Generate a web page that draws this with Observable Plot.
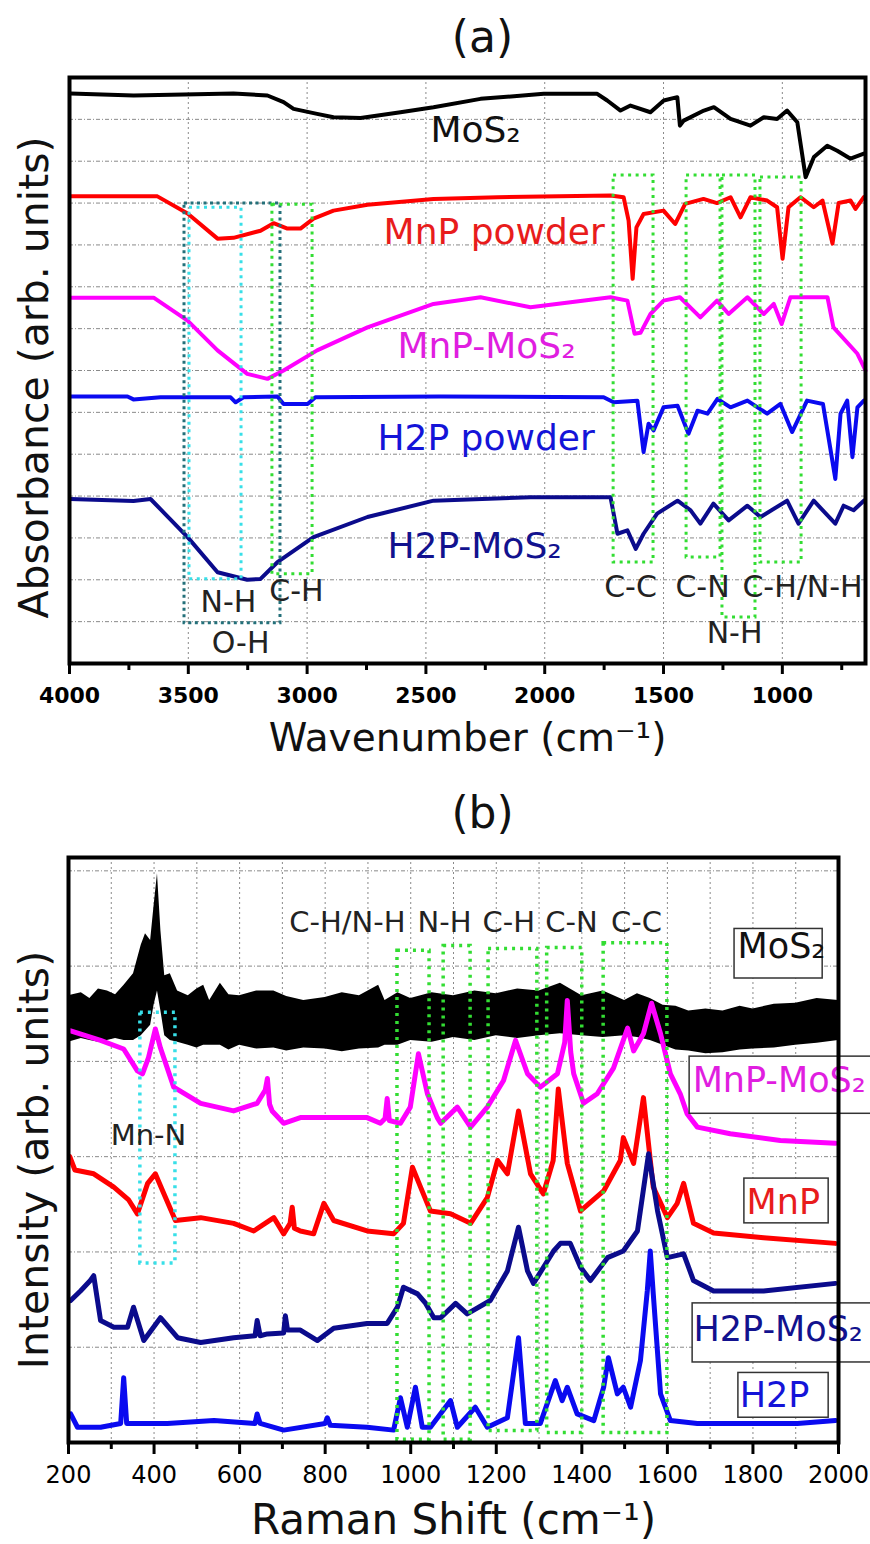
<!DOCTYPE html>
<html><head><meta charset="utf-8">
<script src="https://cdn.jsdelivr.net/npm/d3@7"></script>
<script src="https://cdn.jsdelivr.net/npm/@observablehq/plot@0.6"></script>
<style>
body{margin:0;background:#fff;}
#a svg,#b svg{display:block;}
</style>
</head><body>
<div id="a"></div><div id="b"></div>
<script>
// ---------- Panel (a): FTIR, [wavenumber cm-1, absorbance (arb. units, stacked)] ----------
const ftirMoS2 = [[3996,13.62],[3730,13.57],[3310,13.62],[3167,13.57],[3099,13.41],[3057,13.25],[2958,13.13],[2889,13.05],[2775,13.03],[2607,13.17],[2468,13.29],[2270,13.49],[2004,13.61],[1779,13.61],[1737,13.45],[1681,13.21],[1639,13.33],[1555,13.17],[1499,13.45],[1442,13.53],[1431,12.85],[1415,12.97],[1330,13.21],[1288,13.29],[1218,13.01],[1134,12.85],[1078,13.05],[1022,13.01],[980,13.21],[937,12.93],[902,11.62],[867,12.10],[811,12.37],[769,12.25],[713,12.06],[657,12.18]];
const ftirMnP = [[3996,11.16],[3630,11.16],[3503,10.75],[3377,10.15],[3310,10.17],[3196,10.34],[3141,10.52],[3083,10.39],[3028,10.39],[2973,10.63],[2889,10.82],[2746,10.96],[2468,11.10],[2199,11.14],[1723,11.18],[1668,11.14],[1647,10.58],[1630,9.19],[1614,10.42],[1584,10.74],[1500,10.82],[1451,10.50],[1409,10.98],[1332,11.10],[1275,11.00],[1218,11.14],[1176,10.66],[1134,11.14],[1064,11.06],[1022,10.90],[999,9.67],[974,10.90],[924,11.14],[868,10.90],[831,11.06],[789,10.03],[763,11.00],[713,11.06],[692,10.86],[657,11.14]];
const ftirMnPMoS2 = [[3996,8.74],[3646,8.74],[3503,8.19],[3377,7.48],[3252,6.92],[3167,6.80],[3099,7.00],[2958,7.48],[2746,8.03],[2468,8.59],[2270,8.75],[2060,8.51],[1723,8.75],[1652,8.67],[1622,7.88],[1597,7.90],[1555,8.35],[1500,8.67],[1431,8.75],[1345,8.27],[1275,8.67],[1226,8.35],[1147,8.75],[1078,8.35],[1036,8.59],[1003,8.11],[966,8.75],[810,8.75],[785,8.03],[684,7.40],[650,7.00]];
const ftirH2P = [[3996,6.38],[3756,6.38],[3731,6.31],[3617,6.36],[3322,6.36],[3301,6.24],[3268,6.36],[3125,6.38],[3099,6.20],[2998,6.20],[2965,6.36],[2439,6.38],[1752,6.36],[1710,6.24],[1610,6.28],[1584,5.05],[1563,5.73],[1542,5.57],[1500,6.12],[1441,6.16],[1395,5.49],[1357,6.04],[1315,5.97],[1273,6.32],[1218,6.12],[1147,6.28],[1064,5.97],[1008,6.20],[959,5.53],[896,6.28],[829,6.20],[799,5.17],[777,4.41],[755,5.97],[727,6.28],[705,4.93],[684,6.12],[657,6.28]];
const ftirH2PMoS2 = [[3996,3.93],[3731,3.88],[3659,3.93],[3503,3.02],[3377,2.18],[3252,2.00],[3196,2.02],[3125,2.42],[2973,3.02],[2746,3.50],[2468,3.89],[2060,3.97],[1723,3.97],[1694,3.10],[1652,3.18],[1617,2.74],[1584,3.10],[1527,3.58],[1441,3.89],[1386,3.66],[1345,3.34],[1290,3.82],[1226,3.42],[1147,3.77],[1092,3.50],[980,3.89],[932,3.34],[868,3.89],[777,3.34],[742,3.77],[700,3.66],[657,3.89]];
const ftirTicksMajor = [4000,3500,3000,2500,2000,1500,1000];
const ftirTicksMinor = [3750,3250,2750,2250,1750,1250,750];
const ftirGridY = [1,2,3,4,5,6,7,8,9,10,11,12,13];
const ftirBandOH = [{x1:3516,x2:3112,y1:0.96,y2:10.99}];
const ftirBandNH = [{x1:3495,x2:3276,y1:2.01,y2:10.89}];
const ftirBandsGreen = [
  {x1:3146,x2:2977,y1:2.13,y2:10.96},
  {x1:1710,x2:1542,y1:2.41,y2:11.66},
  {x1:1403,x2:1260,y1:2.53,y2:11.66},
  {x1:1252,x2:1113,y1:1.10,y2:11.66},
  {x1:1092,x2:919,y1:2.41,y2:11.61}
];
const ftirBandText = [
  {text:"N-H",x:3331,y:1.22},{text:"C-H",x:3045,y:1.50},{text:"O-H",x:3280,y:0.26},
  {text:"C-C",x:1639,y:1.58},{text:"C-N",x:1336,y:1.58},{text:"N-H",x:1201,y:0.48}
];
const ftirBandTextStart = [{text:"C-H/N-H",x:1168,y:1.58}];
const ftirNames = ["MoS₂","MnP powder","MnP-MoS₂","H2P powder","H2P-MoS₂"];
const ftirNameX = [2481,2678,2620,2704,2662];
const ftirNameY = [12.45,10.03,7.31,5.09,2.53];

// ---------- Panel (b): Raman, [Raman shift cm-1, intensity (arb. units, stacked)] ----------
const ramanMoS2Band = [[200,4.20,4.69],[230,4.24,4.72],[250,4.22,4.66],[270,4.20,4.76],[291,4.22,4.74],[310,4.24,4.70],[330,4.22,4.80],[352,4.22,4.92],[370,4.27,5.22],[380,4.32,5.34],[392,4.38,5.27],[400,4.59,5.63],[408,4.74,5.97],[416,4.53,5.37],[425,4.27,4.90],[438,4.22,4.92],[455,4.20,4.74],[480,4.17,4.69],[500,4.14,4.76],[516,4.17,4.80],[530,4.17,4.64],[555,4.17,4.82],[575,4.12,4.70],[600,4.17,4.69],[640,4.13,4.74],[680,4.14,4.74],[710,4.11,4.68],[750,4.14,4.64],[800,4.13,4.67],[840,4.10,4.72],[880,4.13,4.69],[925,4.14,4.80],[940,4.17,4.64],[970,4.17,4.72],[1000,4.22,4.66],[1050,4.20,4.72],[1100,4.25,4.69],[1150,4.22,4.74],[1200,4.27,4.71],[1250,4.24,4.76],[1300,4.27,4.74],[1350,4.29,4.82],[1400,4.27,4.69],[1450,4.25,4.74],[1500,4.27,4.64],[1530,4.25,4.71],[1560,4.22,4.66],[1590,4.17,4.59],[1620,4.12,4.58],[1650,4.11,4.53],[1690,4.08,4.55],[1730,4.09,4.53],[1770,4.12,4.58],[1800,4.13,4.55],[1850,4.14,4.60],[1900,4.17,4.61],[1950,4.19,4.66],[2000,4.22,4.64]];
const ramanMnPMoS2 = [[205,4.32],[275,4.22],[329,4.13],[361,3.90],[373,3.87],[387,4.04],[403,4.34],[415,4.14],[446,3.73],[509,3.56],[586,3.48],[641,3.56],[660,3.70],[665,3.82],[670,3.55],[676,3.48],[703,3.35],[742,3.41],[820,3.41],[898,3.41],[929,3.35],[940,3.40],[945,3.61],[950,3.38],[976,3.35],[999,3.52],[1018,4.08],[1039,3.66],[1062,3.41],[1070,3.35],[1109,3.52],[1140,3.31],[1179,3.52],[1217,3.80],[1245,4.22],[1273,3.87],[1303,3.73],[1343,3.87],[1360,4.20],[1366,4.64],[1374,4.10],[1381,3.87],[1404,3.56],[1436,3.66],[1474,3.93],[1507,4.35],[1521,4.11],[1544,4.29],[1563,4.61],[1584,4.29],[1607,3.87],[1630,3.66],[1646,3.45],[1670,3.31],[1747,3.24],[1864,3.17],[1993,3.14]];
const ramanMnP = [[203,3.00],[215,2.86],[259,2.82],[306,2.68],[340,2.55],[361,2.40],[385,2.72],[403,2.82],[423,2.61],[450,2.33],[509,2.36],[586,2.30],[633,2.22],[680,2.36],[703,2.19],[718,2.30],[723,2.47],[728,2.25],[742,2.22],[773,2.19],[797,2.51],[820,2.33],[898,2.22],[960,2.19],[983,2.30],[1004,2.89],[1023,2.68],[1046,2.43],[1093,2.40],[1140,2.30],[1179,2.57],[1203,2.96],[1226,2.82],[1252,3.48],[1280,2.82],[1310,2.61],[1333,2.96],[1345,3.71],[1366,2.93],[1397,2.43],[1451,2.64],[1490,2.96],[1497,3.20],[1521,2.93],[1544,3.62],[1567,2.68],[1600,2.36],[1623,2.51],[1638,2.72],[1661,2.30],[1708,2.20],[1825,2.15],[1993,2.09]];
const ramanH2PMoS2 = [[205,1.49],[228,1.59],[251,1.70],[259,1.75],[275,1.28],[306,1.21],[338,1.21],[352,1.42],[376,1.07],[415,1.31],[455,1.10],[509,1.05],[586,1.10],[636,1.12],[641,1.28],[648,1.12],[665,1.14],[703,1.15],[707,1.33],[712,1.18],[742,1.18],[782,1.07],[820,1.20],[898,1.25],[945,1.25],[969,1.42],[983,1.63],[1016,1.56],[1035,1.46],[1054,1.31],[1070,1.31],[1105,1.46],[1132,1.35],[1186,1.49],[1226,1.80],[1252,2.26],[1273,1.80],[1287,1.67],[1334,2.01],[1350,2.09],[1373,2.09],[1397,1.84],[1420,1.70],[1460,1.94],[1497,2.01],[1530,2.22],[1556,3.03],[1577,2.43],[1600,1.94],[1638,1.98],[1661,1.70],[1708,1.59],[1825,1.59],[1993,1.67]];
const ramanH2P = [[205,0.30],[221,0.16],[275,0.16],[322,0.20],[329,0.68],[336,0.20],[431,0.20],[540,0.23],[636,0.20],[641,0.30],[648,0.20],[703,0.13],[800,0.20],[805,0.26],[812,0.18],[898,0.16],[960,0.13],[976,0.47],[992,0.16],[1011,0.58],[1027,0.16],[1046,0.16],[1093,0.44],[1109,0.16],[1151,0.37],[1179,0.16],[1226,0.26],[1252,1.10],[1268,0.20],[1303,0.20],[1327,0.51],[1338,0.65],[1354,0.44],[1366,0.58],[1389,0.30],[1428,0.23],[1451,0.58],[1462,0.89],[1483,0.51],[1497,0.58],[1514,0.37],[1537,0.86],[1553,1.59],[1560,2.01],[1567,1.56],[1584,0.51],[1607,0.23],[1670,0.20],[1747,0.20],[1904,0.20],[1993,0.23]];
const ramanTicksMajor = [200,400,600,800,1000,1200,1400,1600,1800,2000];
const ramanTicksMinor = [300,500,700,900,1100,1300,1500,1700,1900];
const ramanGridX = [300,400,500,600,700,800,900,1000,1100,1200,1300,1400,1500,1600,1700,1800,1900];
const ramanGridY = [1,2,3,4,5,6];
const ramanBandsGreen = [
  {x1:969,x2:1044,y1:0.03,y2:5.16},{x1:1077,x2:1140,y1:0.03,y2:5.21},
  {x1:1182,x2:1296,y1:0.12,y2:5.18},{x1:1319,x2:1401,y1:0.10,y2:5.19},
  {x1:1451,x2:1600,y1:0.10,y2:5.24}
];
const ramanBandCyan = [{x1:368,x2:450,y1:1.88,y2:4.51}];
const ramanBandText = [
  {text:"C-H/N-H",x:852,y:5.36},{text:"N-H",x:1079,y:5.36},{text:"C-H",x:1229,y:5.36},
  {text:"C-N",x:1376,y:5.36},{text:"C-C",x:1528,y:5.36},{text:"Mn-N",x:387,y:3.12}
];
const ramanNames = ["MoS₂","MnP-MoS₂","MnP","H2P-MoS₂","H2P"];
const ramanNameX = [1764,1659,1785,1661,1769];
const ramanNameY = [5.08,3.68,2.40,1.07,0.37];
const ramanBoxX1 = [1757,1652,1780,1659,1766];
const ramanBoxX2 = [1963,2098,1977,2098,1977];
const ramanBoxY1 = [4.87,3.45,2.30,0.84,0.26];
const ramanBoxY2 = [5.39,4.05,2.77,1.46,0.73];

// ---------- styling (code only) ----------
const FONT = "DejaVu Sans";
const ftirColors = ["#000000","#ff0000","#ff00ff","#0a0af0","#0b0b8c"];
const ftirTextColors = ["#111111","#e81c1c","#e01ee0","#1414d8","#12128e"];
const ramanColors = ["#000000","#ff00ff","#ff0000","#0b0b8c","#0a0af0"];
const ramanTextColors = ["#111111","#e01ee0","#e81c1c","#12128e","#1414d8"];
const GREEN = "#33dd33", CYAN = "#38dfe8", TEAL = "#24707a", GRID = "#8a8a8a";
const px = d => d[0], py = d => d[1];
const plain = d => String(d);

const ftirSeries = [ftirMoS2, ftirMnP, ftirMnPMoS2, ftirH2P, ftirH2PMoS2];
const ftirLabelData = ftirNames.map((t,i) => ({t, x: ftirNameX[i], y: ftirNameY[i], i}));

const plotA = Plot.plot({
  width: 870, height: 775,
  marginLeft: 69, marginRight: 5, marginTop: 77, marginBottom: 112,
  style: {fontFamily: FONT, background: "white", color: "black"},
  x: {domain: [4000, 650]},
  y: {domain: [0, 14], axis: null},
  marks: [
    Plot.gridY(ftirGridY, {stroke: GRID, strokeOpacity: 1, strokeWidth: 1, strokeDasharray: "4,2,1,2"}),
    Plot.gridX(ftirTicksMajor.slice(1), {stroke: GRID, strokeOpacity: 1, strokeWidth: 1, strokeDasharray: "2,3"}),
    ...ftirSeries.map((s,i) => Plot.line(s, {x: px, y: py, stroke: ftirColors[i], strokeWidth: 4, strokeLinejoin: "round"})),
    Plot.rect(ftirBandOH, {x1:"x1", x2:"x2", y1:"y1", y2:"y2", fill: "none", stroke: TEAL, strokeWidth: 3, strokeDasharray: "3,3.5"}),
    Plot.rect(ftirBandNH, {x1:"x1", x2:"x2", y1:"y1", y2:"y2", fill: "none", stroke: CYAN, strokeWidth: 3, strokeDasharray: "3,4.5"}),
    Plot.rect(ftirBandsGreen, {x1:"x1", x2:"x2", y1:"y1", y2:"y2", fill: "none", stroke: GREEN, strokeWidth: 3, strokeDasharray: "3,4.5"}),
    Plot.text(ftirBandText, {x:"x", y:"y", text:"text", fontSize: 30, fill: "#222", lineAnchor: "bottom", textAnchor: "middle"}),
    Plot.text(ftirBandTextStart, {x:"x", y:"y", text:"text", fontSize: 30, fill: "#222", lineAnchor: "bottom", textAnchor: "start"}),
    ...ftirLabelData.map(d => Plot.text([d], {x:"x", y:"y", text:"t", fontSize: 36, fill: ftirTextColors[d.i], lineAnchor: "bottom", textAnchor: "start"})),
    Plot.axisX(ftirTicksMajor, {tickSize: 11, tickPadding: 13, strokeWidth: 3, fontSize: 22, fontWeight: "bold", tickFormat: plain, label: null}),
    Plot.axisX(ftirTicksMinor, {tickSize: 7, strokeWidth: 3, fill: "none", label: null}),
    Plot.frame({stroke: "black", strokeWidth: 4}),
    Plot.text(["(a)"], {frameAnchor: "top", dx: 15, dy: -40, fontSize: 44, lineAnchor: "middle", textAnchor: "middle", fill: "#111"}),
    Plot.text(["Wavenumber (cm⁻¹)"], {frameAnchor: "bottom", dy: 87, fontSize: 39, lineAnchor: "bottom", textAnchor: "middle", fill: "#111"}),
    Plot.text(["Absorbance (arb. units)"], {frameAnchor: "left", rotate: -90, dx: -22, dy: 7, fontSize: 41, lineAnchor: "bottom", textAnchor: "middle", fill: "#111"})
  ]
});
document.getElementById("a").append(plotA);

const ramanSeries = [ramanMnPMoS2, ramanMnP, ramanH2PMoS2, ramanH2P];
const ramanSeriesColors = [ramanColors[1], ramanColors[2], ramanColors[3], ramanColors[4]];
const ramanLabelData = ramanNames.map((t,i) => ({t, x: ramanNameX[i], y: ramanNameY[i], bx1: ramanBoxX1[i], bx2: ramanBoxX2[i], by1: ramanBoxY1[i], by2: ramanBoxY2[i], i}));

const plotB = Plot.plot({
  width: 870, height: 769,
  marginLeft: 68, marginRight: 32, marginTop: 82, marginBottom: 102,
  style: {fontFamily: FONT, background: "white", color: "black"},
  x: {domain: [200, 2000]},
  y: {domain: [0, 6.14], axis: null},
  marks: [
    Plot.gridY(ramanGridY, {stroke: GRID, strokeOpacity: 1, strokeWidth: 1, strokeDasharray: "4,2,1,2"}),
    Plot.gridX(ramanGridX, {stroke: GRID, strokeOpacity: 1, strokeWidth: 1, strokeDasharray: "2,3"}),
    Plot.areaY(ramanMoS2Band, {x: d => d[0], y1: d => d[1], y2: d => d[2], fill: ramanColors[0]}),
    ...ramanSeries.map((s,i) => Plot.line(s, {x: px, y: py, stroke: ramanSeriesColors[i], strokeWidth: 5, strokeLinejoin: "round"})),
    Plot.rect(ramanBandCyan, {x1:"x1", x2:"x2", y1:"y1", y2:"y2", fill: "none", stroke: CYAN, strokeWidth: 3.5, strokeDasharray: "3,5"}),
    Plot.rect(ramanBandsGreen, {x1:"x1", x2:"x2", y1:"y1", y2:"y2", fill: "none", stroke: GREEN, strokeWidth: 3.5, strokeDasharray: "3,5"}),
    Plot.text(ramanBandText, {x:"x", y:"y", text:"text", fontSize: 29, fill: "#222", lineAnchor: "bottom", textAnchor: "middle"}),
    Plot.rect(ramanLabelData, {x1:"bx1", x2:"bx2", y1:"by1", y2:"by2", fill: "white", stroke: "#333", strokeWidth: 1.5}),
    ...ramanLabelData.map(d => Plot.text([d], {x:"x", y:"y", text:"t", fontSize: 35, fill: ramanTextColors[d.i], lineAnchor: "bottom", textAnchor: "start"})),
    Plot.axisX(ramanTicksMajor, {tickSize: 12, tickPadding: 11, strokeWidth: 3, fontSize: 24, tickFormat: plain, label: null}),
    Plot.axisX(ramanTicksMinor, {tickSize: 7, strokeWidth: 3, fill: "none", label: null}),
    Plot.frame({stroke: "black", strokeWidth: 4}),
    Plot.text(["(b)"], {frameAnchor: "top", dx: 29, dy: -44, fontSize: 44, lineAnchor: "middle", textAnchor: "middle", fill: "#111"}),
    Plot.text(["Raman Shift (cm⁻¹)"], {frameAnchor: "bottom", dy: 91, fontSize: 42, lineAnchor: "bottom", textAnchor: "middle", fill: "#111"}),
    Plot.text(["Intensity (arb. units)"], {frameAnchor: "left", rotate: -90, dx: -21, dy: 10, fontSize: 41, lineAnchor: "bottom", textAnchor: "middle", fill: "#111"})
  ]
});
document.getElementById("b").append(plotB);
</script>
</body></html>
